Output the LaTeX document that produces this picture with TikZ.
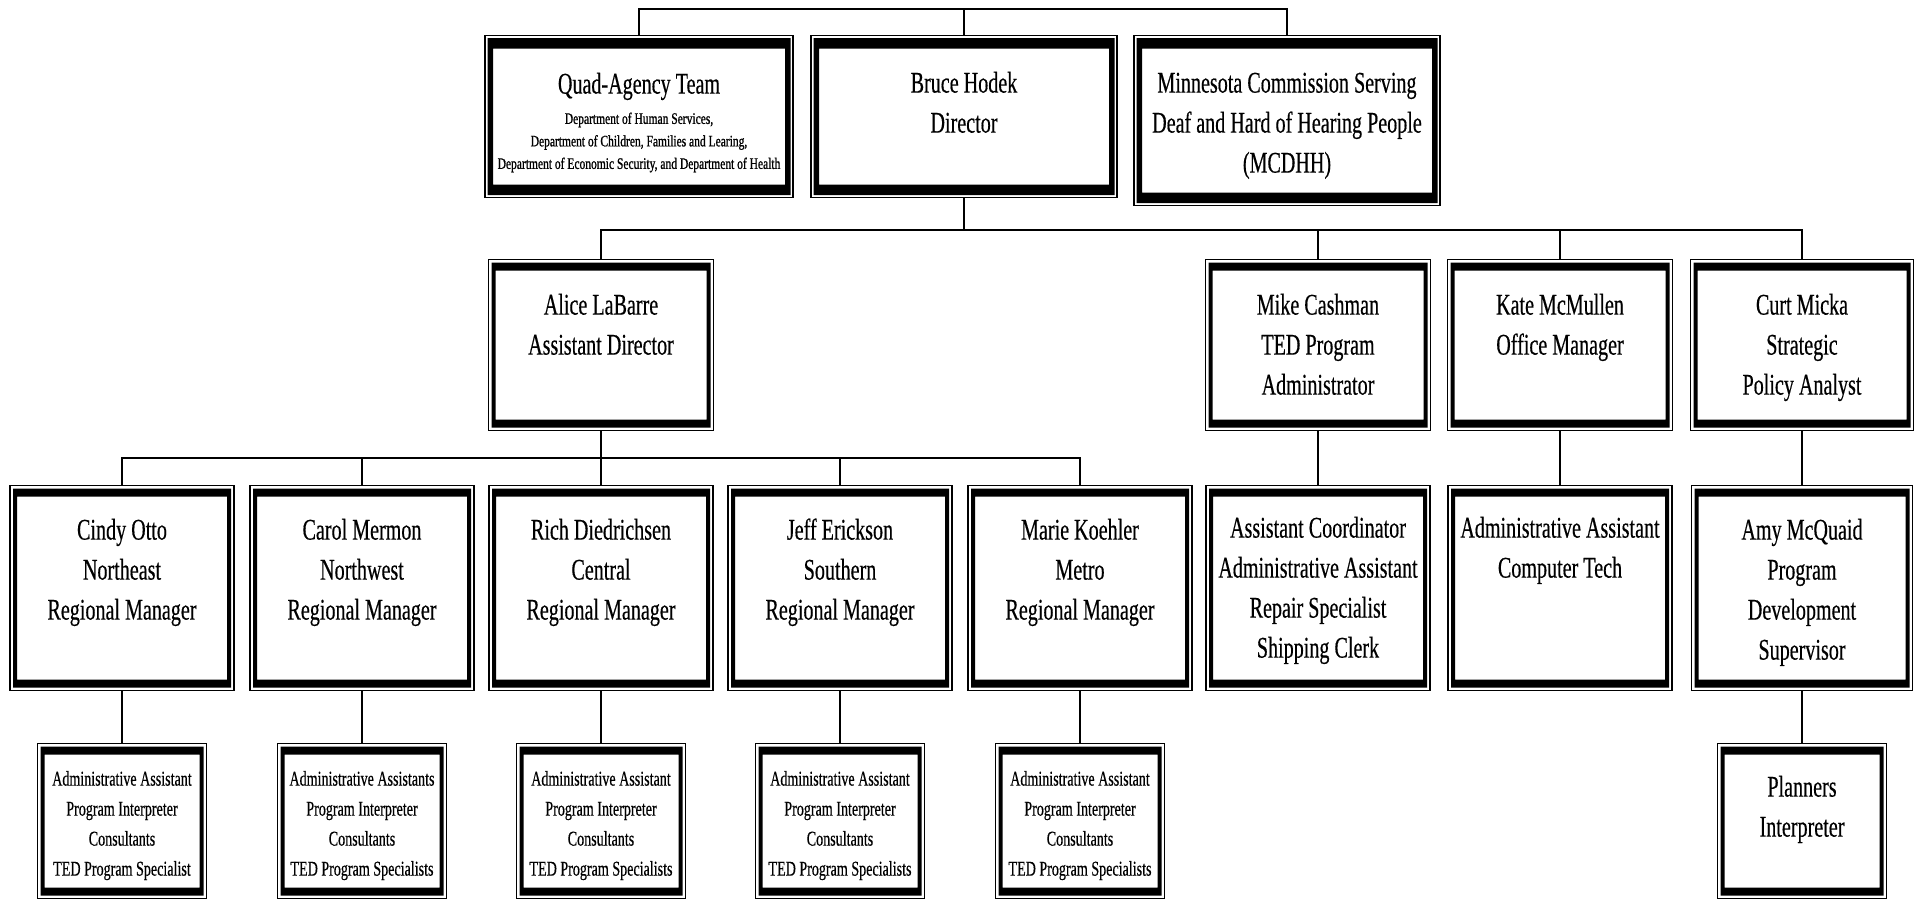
\documentclass[tikz,border=0pt]{standalone}
\usepackage{fontspec}
\setmainfont{Liberation Serif}[FakeStretch=0.67,FakeBold=0.4]
\newfontfamily\quadsmall{Liberation Serif}[FakeStretch=0.72,FakeBold=1]
\newcommand\bigf{\fontsize{30}{40}\selectfont}
\newcommand\smallf{\fontsize{21}{30}\selectfont}
\newcommand\orgnode[7]{%
  \node[#6,anchor=north] (#1) at (#2,#3) {\parbox[t][#5pt][t]{#4pt}{\centering #7}};}
\tikzset{
  framed/.style n args={3}{draw=black, line width=1.2pt, fill=white, inner sep=0pt,
    path picture={\fill[black, even odd rule]
      ([shift={(#1pt,#1pt)}]path picture bounding box.south west) rectangle ([shift={(-#1pt,-#1pt)}]path picture bounding box.north east)
      ([shift={(#2pt,#3pt)}]path picture bounding box.south west) rectangle ([shift={(-#2pt,-#3pt)}]path picture bounding box.north east);}},
  orgbox/.style={framed={3}{7}{11}},
  topbox/.style={framed={2.5}{8}{13}},
  link/.style={line width=2.6pt, line cap=rect},
}
\begin{document}
\begin{tikzpicture}[x=1pt,y=-1pt]
\useasboundingbox (0,0) rectangle (1917,900);
\fill[white] (0,0) rectangle (1917,900);

% top row
\orgnode{quad}{639}{35}{308}{162}{topbox}{\bigf\vspace*{30pt}\strut Quad-Agency Team\par\vspace{6pt}%
  {\quadsmall\fontsize{16}{22.5}\selectfont Department of Human Services,\\Department of Children, Families and Learing,\\Department of Economic Security, and Department of Health\par}}
\orgnode{bruce}{964}{35}{306}{162}{topbox}{\bigf\vspace*{29pt}\strut Bruce Hodek\\Director}
\orgnode{mcdhh}{1287}{35}{306}{170}{topbox}{\bigf\vspace*{29pt}\strut Minnesota Commission Serving\\Deaf and Hard of Hearing People\\(MCDHH)}

% second row
\orgnode{alice}{601}{259}{225}{171}{orgbox}{\bigf\vspace*{27pt}\strut Alice LaBarre\\Assistant Director}
\orgnode{mike}{1318}{259}{225}{171}{orgbox}{\bigf\vspace*{27pt}\strut Mike Cashman\\TED Program\\Administrator}
\orgnode{kate}{1560}{259}{225}{171}{orgbox}{\bigf\vspace*{27pt}\strut Kate McMullen\\Office Manager}
\orgnode{curt}{1802}{259}{223}{171}{orgbox}{\bigf\vspace*{27pt}\strut Curt Micka\\Strategic\\Policy Analyst}

% third row
\orgnode{cindy}{122}{485}{224}{205}{orgbox}{\bigf\vspace*{26pt}\strut Cindy Otto\\Northeast\\Regional Manager}
\orgnode{carol}{362}{485}{224}{205}{orgbox}{\bigf\vspace*{26pt}\strut Carol Mermon\\Northwest\\Regional Manager}
\orgnode{rich}{601}{485}{224}{205}{orgbox}{\bigf\vspace*{26pt}\strut Rich Diedrichsen\\Central\\Regional Manager}
\orgnode{jeff}{840}{485}{224}{205}{orgbox}{\bigf\vspace*{26pt}\strut Jeff Erickson\\Southern\\Regional Manager}
\orgnode{marie}{1080}{485}{224}{205}{orgbox}{\bigf\vspace*{26pt}\strut Marie Koehler\\Metro\\Regional Manager}
\orgnode{mikec}{1318}{485}{224}{205}{orgbox}{\bigf\vspace*{24pt}\strut Assistant Coordinator\\Administrative Assistant\\Repair Specialist\\Shipping Clerk}
\orgnode{katec}{1560}{485}{224}{205}{orgbox}{\bigf\vspace*{24pt}\strut Administrative Assistant\\Computer Tech}
\orgnode{amy}{1802}{485}{221}{205}{orgbox}{\bigf\vspace*{26pt}\strut Amy McQuaid\\Program\\Development\\Supervisor}

% bottom row
\orgnode{bone}{122}{743}{169}{155}{orgbox}{\smallf\vspace*{21pt}\strut Administrative Assistant\\Program Interpreter\\Consultants\\TED Program Specialist}
\orgnode{btwo}{362}{743}{169}{155}{orgbox}{\smallf\vspace*{21pt}\strut Administrative Assistants\\Program Interpreter\\Consultants\\TED Program Specialists}
\orgnode{bthree}{601}{743}{169}{155}{orgbox}{\smallf\vspace*{21pt}\strut Administrative Assistant\\Program Interpreter\\Consultants\\TED Program Specialists}
\orgnode{bfour}{840}{743}{169}{155}{orgbox}{\smallf\vspace*{21pt}\strut Administrative Assistant\\Program Interpreter\\Consultants\\TED Program Specialists}
\orgnode{bfive}{1080}{743}{169}{155}{orgbox}{\smallf\vspace*{21pt}\strut Administrative Assistant\\Program Interpreter\\Consultants\\TED Program Specialists}
\orgnode{planners}{1802}{743}{169}{155}{orgbox}{\bigf\vspace*{25pt}\strut Planners\\Interpreter}

% connectors
\coordinate (topbar) at (964,9);
\coordinate (bartwo) at (964,230);
\coordinate (barthree) at (601,458);
\draw[link] (quad.north) |- (topbar) -| (mcdhh.north);
\draw[link] (bruce.north) -- (topbar);
\draw[link] (bruce.south) -- (bartwo);
\draw[link] (alice.north) |- (bartwo) -| (curt.north);
\draw[link] (mike.north) -- (mike.north |- bartwo);
\draw[link] (kate.north) -- (kate.north |- bartwo);
\draw[link] (alice.south) -- (barthree);
\draw[link] (cindy.north) |- (barthree) -| (marie.north);
\draw[link] (carol.north) -- (carol.north |- barthree);
\draw[link] (rich.north) -- (barthree);
\draw[link] (jeff.north) -- (jeff.north |- barthree);
\draw[link] (mike.south) -- (mikec.north);
\draw[link] (kate.south) -- (katec.north);
\draw[link] (curt.south) -- (amy.north);
\draw[link] (cindy.south) -- (bone.north);
\draw[link] (carol.south) -- (btwo.north);
\draw[link] (rich.south) -- (bthree.north);
\draw[link] (jeff.south) -- (bfour.north);
\draw[link] (marie.south) -- (bfive.north);
\draw[link] (amy.south) -- (planners.north);
\end{tikzpicture}
\end{document}
